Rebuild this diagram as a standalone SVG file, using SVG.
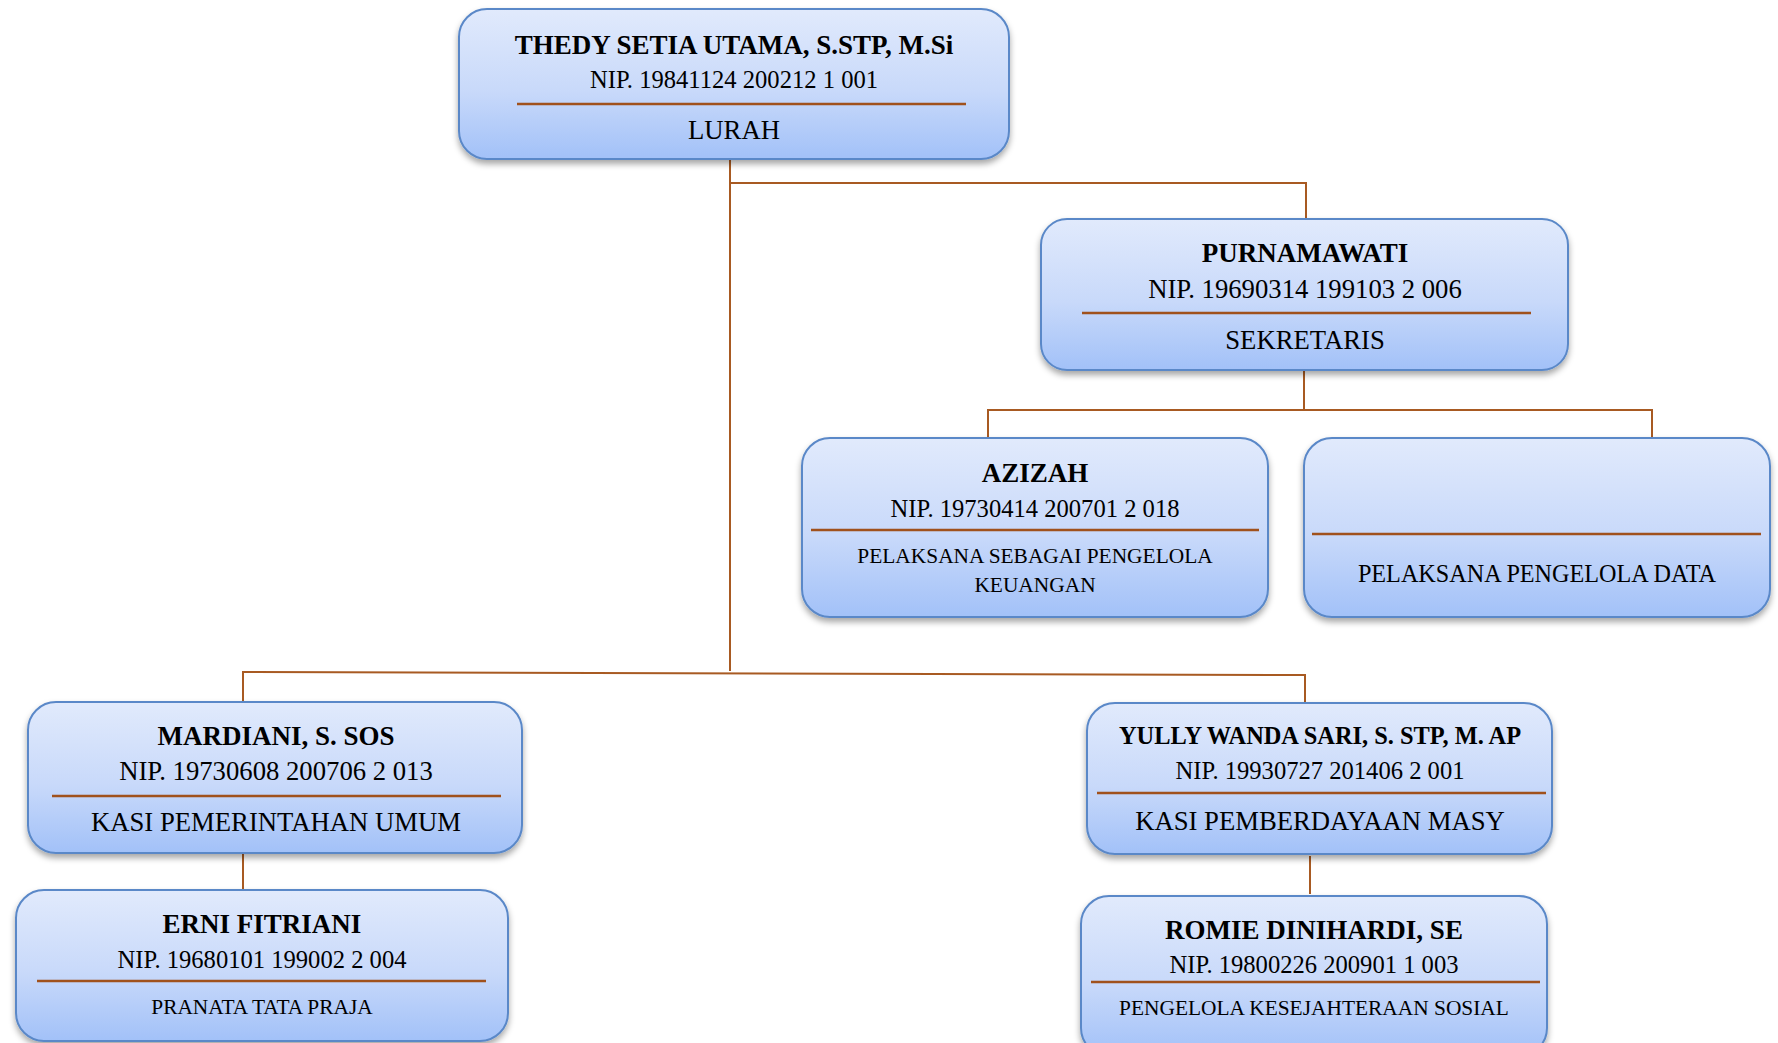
<svg xmlns="http://www.w3.org/2000/svg" width="1778" height="1043" viewBox="0 0 1778 1043">
<style>
.box{fill:url(#g);stroke:#5a88c8;stroke-width:2;filter:url(#sh)}
.sep{stroke:#a0511c;stroke-width:2.5}
.con{stroke:#a85a22;stroke-width:2;fill:none}
text{font-family:"Liberation Serif","Times New Roman",serif;fill:#000;text-anchor:middle}
.t{font-weight:bold;font-size:27px}
.n{font-size:26.7px}
.ns{font-size:24.6px}
.r{font-size:26.7px}
.rs{font-size:21.4px}
</style>
<defs>
<linearGradient id="g" x1="0" y1="0" x2="0" y2="1">
<stop offset="0" stop-color="#e1eafc"/>
<stop offset="0.55" stop-color="#c8d9fa"/>
<stop offset="1" stop-color="#a2c1f8"/>
</linearGradient>
<filter id="sh" x="-10%" y="-10%" width="120%" height="130%">
<feDropShadow dx="0" dy="4" stdDeviation="3" flood-color="#000" flood-opacity="0.35"/>
</filter>
</defs>
<rect width="1778" height="1043" fill="#fff"/>
<g id="connectors">
<polyline class="con" points="730,159 730,183 1306,183 1306,219"/>
<polyline class="con" points="730,183 730,671"/>
<polyline class="con" points="243,702 243,672 1305,675 1305,703"/>
<polyline class="con" points="1304,370 1304,410"/>
<polyline class="con" points="988,437 988,410 1652,410 1652,437"/>
<line class="con" x1="243" y1="853" x2="243" y2="890"/>
<line class="con" x1="1310" y1="856" x2="1310" y2="894"/>
</g>
<g id="lurah">
<rect class="box" x="459" y="9" width="550" height="150" rx="28"/>
<text class="t" x="734" y="54">THEDY SETIA UTAMA, S.STP, M.Si</text>
<text class="ns" x="734" y="88">NIP. 19841124 200212 1 001</text>
<line class="sep" x1="517" y1="104" x2="966" y2="104"/>
<text class="r" x="734" y="139">LURAH</text>
</g>
<g id="sekretaris">
<rect class="box" x="1041" y="219" width="527" height="151" rx="26"/>
<text class="t" x="1305" y="262">PURNAMAWATI</text>
<text class="n" x="1305" y="298">NIP. 19690314 199103 2 006</text>
<line class="sep" x1="1082" y1="313" x2="1531" y2="313"/>
<text class="r" x="1305" y="349">SEKRETARIS</text>
</g>
<g id="azizah">
<rect class="box" x="802" y="438" width="466" height="179" rx="28"/>
<text class="t" x="1035" y="482">AZIZAH</text>
<text class="ns" x="1035" y="517">NIP. 19730414 200701 2 018</text>
<line class="sep" x1="811" y1="530" x2="1259" y2="530"/>
<text class="rs" x="1035" y="563">PELAKSANA SEBAGAI PENGELOLA</text>
<text class="rs" x="1035" y="592">KEUANGAN</text>
</g>
<g id="data">
<rect class="box" x="1304" y="438" width="466" height="179" rx="28"/>
<line class="sep" x1="1312" y1="534" x2="1761" y2="534"/>
<text x="1537" y="582" style="font-size:24.2px">PELAKSANA PENGELOLA DATA</text>
</g>
<g id="mardiani">
<rect class="box" x="28" y="702" width="494" height="151" rx="28"/>
<text class="t" x="276" y="745">MARDIANI, S. SOS</text>
<text class="n" x="276" y="780">NIP. 19730608 200706 2 013</text>
<line class="sep" x1="52" y1="796" x2="501" y2="796"/>
<text class="r" x="276" y="831">KASI PEMERINTAHAN UMUM</text>
</g>
<g id="erni">
<rect class="box" x="16" y="890" width="492" height="151" rx="28"/>
<text class="t" x="262" y="933">ERNI FITRIANI</text>
<text class="ns" x="262" y="968">NIP. 19680101 199002 2 004</text>
<line class="sep" x1="37" y1="981" x2="486" y2="981"/>
<text class="rs" x="262" y="1014">PRANATA TATA PRAJA</text>
</g>
<g id="yully">
<rect class="box" x="1087" y="703" width="465" height="151" rx="28"/>
<text x="1320" y="744" style="font-weight:bold;font-size:24.4px">YULLY WANDA SARI, S. STP, M. AP</text>
<text class="ns" x="1320" y="779">NIP. 19930727 201406 2 001</text>
<line class="sep" x1="1097" y1="793" x2="1546" y2="793"/>
<text class="r" x="1320" y="830">KASI PEMBERDAYAAN MASY</text>
</g>
<g id="romie">
<rect class="box" x="1081" y="896" width="466" height="160" rx="28"/>
<text class="t" x="1314" y="939">ROMIE DINIHARDI, SE</text>
<text class="ns" x="1314" y="973">NIP. 19800226 200901 1 003</text>
<line class="sep" x1="1091" y1="982" x2="1540" y2="982"/>
<text class="rs" x="1314" y="1015">PENGELOLA KESEJAHTERAAN SOSIAL</text>
</g>
</svg>
